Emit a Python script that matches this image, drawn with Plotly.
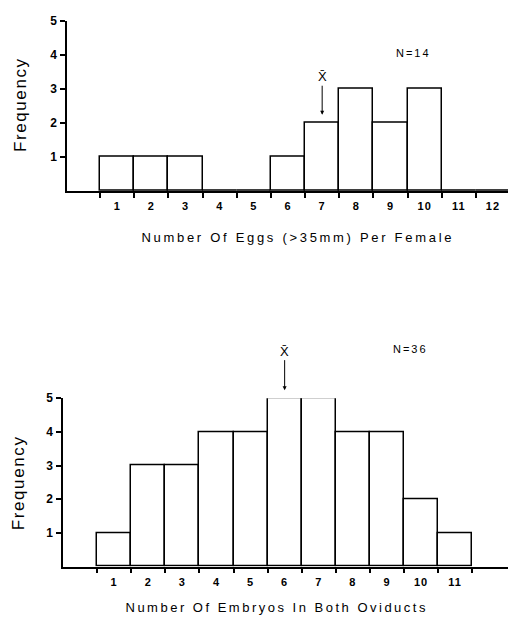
import json
import plotly.graph_objects as go

# ---- data ----
egg_bins = list(range(1, 13))
egg_freq = [1, 1, 1, 0, 0, 1, 2, 3, 2, 3, 0, 0]
egg_n_label = "N=14"
egg_mean_bin = 7

embryo_bins = list(range(1, 12))
embryo_freq = [1, 3, 3, 4, 4, 5, 5, 4, 4, 2, 1]
embryo_n_label = "N=36"
embryo_mean_bin = 6

y_ticks = [1, 2, 3, 4, 5]
y_max = 5
egg_title = "Number Of Eggs (>35mm) Per Female"
embryo_title = "Number Of Embryos In Both Oviducts"
y_title = "Frequency"
mean_label = "X\u0304"

W, H = 508, 618
FONT = "Liberation Sans, Arial, Helvetica, sans-serif"

fig = go.Figure()
bar_style = dict(color="white", line=dict(color="black", width=1.5))
fig.add_trace(go.Bar(x=egg_bins, y=egg_freq, width=1, marker=bar_style,
                     xaxis="x", yaxis="y", showlegend=False))
fig.add_trace(go.Bar(x=embryo_bins, y=embryo_freq, width=1, marker=bar_style,
                     xaxis="x2", yaxis="y2", showlegend=False))

def xaxis(domain, rng, bins, edges):
    return dict(
        domain=domain, range=rng, showgrid=False, zeroline=False,
        showline=True, linecolor="black", linewidth=1.5,
        tickmode="array", tickvals=bins, ticktext=[str(b) for b in bins],
        ticks="", ticklabelstandoff=4,
        tickfont=dict(family=FONT, size=11, color="black", weight="bold"),
        minor=dict(tickmode="array", tickvals=edges, ticks="outside",
                   ticklen=5, tickwidth=1.5, tickcolor="black"),
    )

def yaxis(domain):
    return dict(
        domain=domain, range=[0, y_max], showgrid=False, zeroline=False,
        showline=True, linecolor="black", linewidth=1.5,
        tickmode="array", tickvals=y_ticks, ticks="outside", ticklen=5,
        tickwidth=1.5, tickcolor="black", ticklabelstandoff=1,
        tickfont=dict(family=FONT, size=12, color="black", weight="bold"),
    )

egg_edges = [b - 0.5 for b in egg_bins]
embryo_edges = [b - 0.5 for b in embryo_bins] + [embryo_bins[-1] + 0.5]

fig.update_layout(
    width=W, height=H, margin=dict(l=0, r=0, t=0, b=0),
    paper_bgcolor="white", plot_bgcolor="white", bargap=0,
    xaxis=dict(xaxis([67 / W, 1], [-0.47, 12.44], egg_bins, egg_edges), anchor="y"),
    yaxis=dict(yaxis([(H - 186) / H, (H - 14) / H]), anchor="x"),
    xaxis2=dict(xaxis([63 / W, 1], [-0.5, 12.55], embryo_bins, embryo_edges), anchor="y2"),
    yaxis2=dict(yaxis([(H - 566) / H, (H - 395.7) / H]), anchor="x2"),
)

ann = []
def text_ann(text, x, y, size, angle=0):
    ann.append(dict(text=text, x=x, y=y, xref="paper", yref="paper",
                    xanchor="center", yanchor="middle",
                    showarrow=False, textangle=angle,
                    font=dict(family=FONT, size=size, color="black")))

text_ann(egg_title, 298 / W, (H - 233) / H, 13)
text_ann(embryo_title, 276.5 / W, (H - 607) / H, 13)
text_ann(y_title, 21 / W, (H - 99) / H, 17, -90)
text_ann(y_title, 18.5 / W, (H - 481) / H, 17, -90)
text_ann(egg_n_label, 413 / W, (H - 47) / H, 11)
text_ann(embryo_n_label, 410 / W, (H - 345.7) / H, 11)

for xr, yr, b, bins, freq, ay in [("x", "y", egg_mean_bin, egg_bins, egg_freq, -38),
                                  ("x2", "y2", embryo_mean_bin, embryo_bins, embryo_freq, -39)]:
    tip = (freq[bins.index(b)] + 0.24) / y_max
    ann.append(dict(text=mean_label, x=b, y=tip,
                    xref=xr, yref=yr + " domain", showarrow=True, arrowhead=2,
                    arrowsize=0.8, arrowwidth=1, arrowcolor="black",
                    ax=0, ay=ay, xanchor="center", yanchor="middle",
                    font=dict(family=FONT, size=13, color="black")))
fig.update_layout(annotations=ann)

spacing = {egg_title: 2.7, embryo_title: 2.5, y_title: 1.6,
           egg_n_label: 2, embryo_n_label: 2}
post = """
var gd = document.getElementById('{plot_id}');
var sp = %s;
function applySpacing(){
  gd.querySelectorAll('g.annotation text').forEach(function(t){
    var s = sp[t.textContent];
    if (s !== undefined) { t.style.letterSpacing = s + 'px'; }
  });
  gd.querySelectorAll('g.xtick text, g.x2tick text').forEach(function(t){
    t.style.letterSpacing = '1px';
  });
}
applySpacing();
gd.on('plotly_afterplot', applySpacing);
""" % json.dumps(spacing)

fig.write_html("out.html", post_script=post)
